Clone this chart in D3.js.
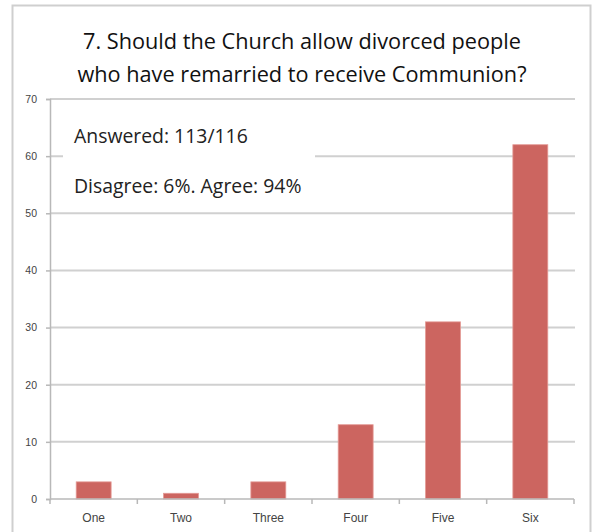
<!DOCTYPE html>
<html><head><meta charset="utf-8">
<script src="https://cdn.jsdelivr.net/npm/d3@7"></script>
<style>body{margin:0;background:#fff}svg{display:block}</style>
</head><body>
<svg id="c" width="595" height="532"></svg>
<script>
const categories = ["One","Two","Three","Four","Five","Six"];
const values = [3,1,3,13,31,62];
const yTicks = [0,10,20,30,40,50,60,70];
const titleLines = ["7. Should the Church allow divorced people","who have remarried to receive Communion?"];
const notes = ["Answered: 113/116","Disagree: 6%. Agree: 94%"];

const svg = d3.select("#c");
// outer frame
svg.append("rect").attr("x",12.5).attr("y",5.5).attr("width",578).attr("height",540)
  .attr("fill","#fff").attr("stroke","#cfcfcf").attr("stroke-width",2);

const L=50, R=574, T=99, B=499;
const x = d3.scaleBand().domain(categories).range([L,R]).paddingInner(0.6).paddingOuter(0.3);
const xb = d3.scaleBand().domain(categories).range([L,R]);
const y = d3.scaleLinear().domain([0,70]).range([B,T]);

// gridlines
svg.append("g").selectAll("line").data(yTicks.filter(d=>d>0)).join("line")
  .attr("x1",L).attr("x2",R+1).attr("y1",d=>y(d)).attr("y2",d=>y(d))
  .attr("stroke","#d0d0d0").attr("stroke-width",2);

// y axis
const ya = svg.append("g").attr("transform",`translate(${L},0)`)
  .call(d3.axisLeft(y).tickValues(yTicks).tickSize(4).tickPadding(9));
ya.select(".domain").attr("stroke","#b8b8b8").attr("stroke-width",1.5);
ya.selectAll(".tick line").attr("stroke","#b8b8b8").attr("stroke-width",1.5);
ya.selectAll("text").attr("font-family","Liberation Sans, Arial, sans-serif").attr("font-size",10.5).attr("fill","#444");

// annotation box
svg.append("rect").attr("x",63).attr("y",112).attr("width",252).attr("height",94).attr("fill","#fff");
svg.append("g").selectAll("text").data(notes).join("text")
  .attr("x",74).attr("y",(d,i)=>143+i*50)
  .attr("font-family","Open Sans, sans-serif").attr("font-size",19.4).attr("fill","#222")
  .text(d=>d);

// bars
svg.append("g").selectAll("rect").data(values).join("rect")
  .attr("x",(d,i)=>x(categories[i])).attr("width",x.bandwidth())
  .attr("y",d=>y(d)).attr("height",d=>B-y(d))
  .attr("fill","#cc6560").attr("stroke","#e49a95").attr("stroke-width",0.8);

// x axis
const xa = svg.append("g").attr("transform",`translate(0,${B})`);
xa.append("line").attr("x1",L).attr("x2",R).attr("stroke","#b8b8b8").attr("stroke-width",1.5);
const bounds = categories.map(c=>xb(c)).concat([R]);
xa.selectAll("line.t").data(bounds).join("line").attr("class","t")
  .attr("x1",d=>d).attr("x2",d=>d).attr("y1",0).attr("y2",5)
  .attr("stroke","#b8b8b8").attr("stroke-width",1.5);
xa.selectAll("text").data(categories).join("text")
  .attr("x",d=>xb(d)+xb.bandwidth()/2).attr("y",23).attr("text-anchor","middle")
  .attr("font-family","Liberation Sans, Arial, sans-serif").attr("font-size",12).attr("fill","#444")
  .text(d=>d);

// title
svg.append("g").selectAll("text").data(titleLines).join("text")
  .attr("x",302).attr("y",(d,i)=>49+i*33).attr("text-anchor","middle")
  .attr("font-family","Open Sans, sans-serif").attr("font-size",21.7).attr("fill","#111")
  .text(d=>d);
</script>
</body></html>
